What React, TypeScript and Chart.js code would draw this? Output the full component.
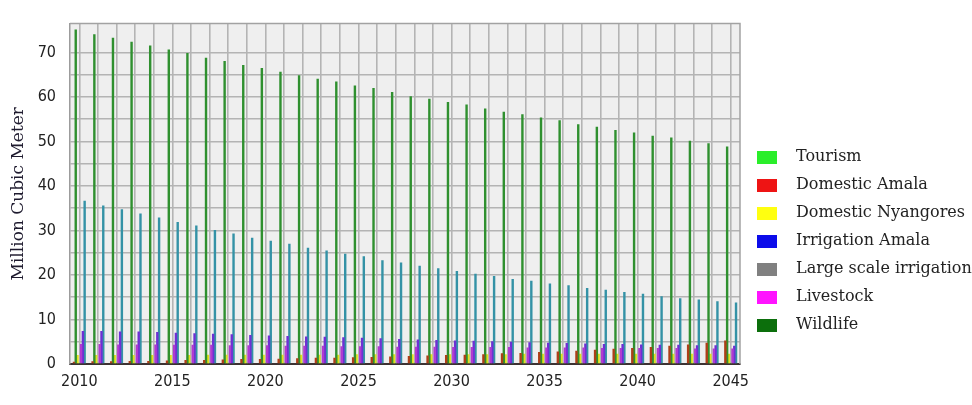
import { useEffect, useRef } from 'react';
import { Chart, registerables } from 'chart.js';

Chart.register(...registerables);

const years = [
  '2010', '2011', '2012', '2013', '2014', '2015', '2016', '2017', '2018', '2019',
  '2020', '2021', '2022', '2023', '2024', '2025', '2026', '2027', '2028', '2029',
  '2030', '2031', '2032', '2033', '2034', '2035', '2036', '2037', '2038', '2039',
  '2040', '2041', '2042', '2043', '2044', '2045',
];

const domesticAmala = [
  0.5, 0.6, 0.6, 0.7, 0.7, 0.8, 0.9, 0.9, 1.0, 1.1, 1.1, 1.2, 1.3, 1.4, 1.4, 1.5, 1.6, 1.7,
  1.8, 1.9, 2.0, 2.1, 2.2, 2.4, 2.5, 2.7, 2.8, 3.0, 3.2, 3.4, 3.6, 3.8, 4.1, 4.4, 4.8, 5.3,
];
const wildlife = [
  75.2, 74.1, 73.3, 72.4, 71.6, 70.7, 69.9, 68.8, 68.1, 67.2, 66.5, 65.7, 64.9, 64.1, 63.5, 62.6, 62.0, 61.1,
  60.2, 59.6, 58.9, 58.3, 57.4, 56.7, 56.1, 55.4, 54.8, 53.9, 53.3, 52.6, 52.0, 51.3, 50.9, 50.2, 49.6, 48.9,
];
const domesticNyangores = [
  2.0, 2.0, 2.0, 2.0, 2.0, 2.0, 2.0, 2.1, 2.1, 2.1, 2.1, 2.1, 2.1, 2.1, 2.1, 2.2, 2.2, 2.2,
  2.2, 2.2, 2.2, 2.2, 2.2, 2.2, 2.3, 2.3, 2.3, 2.3, 2.3, 2.3, 2.3, 2.3, 2.3, 2.3, 2.3, 2.3,
];
const tourism = [
  0.3, 0.3, 0.3, 0.3, 0.3, 0.3, 0.3, 0.3, 0.3, 0.3, 0.3, 0.3, 0.3, 0.3, 0.3, 0.3, 0.3, 0.3,
  0.3, 0.3, 0.3, 0.3, 0.3, 0.3, 0.3, 0.3, 0.3, 0.3, 0.3, 0.3, 0.3, 0.3, 0.3, 0.3, 0.3, 0.3,
];
const livestock = [
  4.5, 4.5, 4.4, 4.4, 4.4, 4.3, 4.3, 4.3, 4.2, 4.2, 4.2, 4.1, 4.1, 4.1, 4.0, 4.0, 4.0, 3.9,
  3.9, 3.9, 3.8, 3.8, 3.8, 3.8, 3.7, 3.7, 3.7, 3.7, 3.6, 3.6, 3.6, 3.6, 3.6, 3.5, 3.5, 3.5,
];
const irrigationAmala = [
  7.4, 7.4, 7.3, 7.3, 7.2, 7.0, 6.9, 6.8, 6.7, 6.5, 6.4, 6.3, 6.2, 6.1, 6.0, 5.9, 5.8, 5.6,
  5.5, 5.4, 5.3, 5.2, 5.1, 5.0, 4.9, 4.8, 4.7, 4.6, 4.5, 4.5, 4.4, 4.3, 4.3, 4.2, 4.2, 4.1,
];
const largeScaleIrrigation = [
  36.7, 35.6, 34.8, 33.8, 32.9, 31.9, 31.1, 30.1, 29.3, 28.4, 27.7, 27.0, 26.1, 25.5, 24.8, 24.2, 23.3, 22.8,
  22.1, 21.5, 20.9, 20.3, 19.8, 19.1, 18.7, 18.1, 17.7, 17.1, 16.7, 16.2, 15.8, 15.2, 14.8, 14.5, 14.1, 13.8,
];

// bars within each year group, left to right
const barNames = [
  'Domestic Amala', 'Wildlife', 'Domestic Nyangores', 'Tourism', 'Livestock', 'Irrigation Amala', 'Large scale irrigation',
];
const barValues = [domesticAmala, wildlife, domesticNyangores, tourism, livestock, irrigationAmala, largeScaleIrrigation];
const barColors = ['#ad3f18', '#2f902f', '#e2e21e', '#78d040', '#b13ad0', '#6e30d4', '#3492a6'];

// legend as printed
const legendNames = [
  'Tourism', 'Domestic Amala', 'Domestic Nyangores', 'Irrigation Amala', 'Large scale irrigation', 'Livestock', 'Wildlife',
];
const legendColors = ['#2aee2a', '#ee1414', '#ffff10', '#0c0cea', '#808080', '#ff14ff', '#0c6f0c'];

const yLabelEvery = 10;
const xLabelEvery = 5;

function makeSwatch(color: string) {
  const c = document.createElement('canvas');
  c.width = 31;
  c.height = 13;
  const g = c.getContext('2d')!;
  g.fillStyle = color;
  g.fillRect(0, 0, 20, 13);
  return c;
}

export default function App() {
  const ref = useRef<HTMLCanvasElement>(null);

  useEffect(() => {
    document.body.style.margin = '0';
    const canvas = ref.current!;

    const tweaks = {
      id: 'tweaks',
      beforeInit(chart: any) {
        const lg = chart.legend;
        const orig = lg.fit;
        lg.fit = function () {
          orig.call(this);
          this.width = 232;
        };
      },
      afterLayout(chart: any) {
        const lg = chart.legend;
        lg.left = 745;
        lg.right = 972;
        lg.top = 137;
        lg.bottom = 405;
      },
      beforeDraw(chart: any) {
        const { ctx, chartArea: a } = chart;
        ctx.save();
        ctx.fillStyle = '#efefef';
        ctx.fillRect(a.left, a.top, a.right - a.left, a.bottom - a.top);
        ctx.restore();
      },
      beforeDatasetsDraw(chart: any) {
        const { ctx, chartArea: a } = chart;
        ctx.save();
        ctx.strokeStyle = '#a2a2a2';
        ctx.lineWidth = 1.5;
        ctx.beginPath();
        ctx.moveTo(a.left, a.top);
        ctx.lineTo(a.right, a.top);
        ctx.lineTo(a.right, a.bottom);
        ctx.stroke();
        ctx.restore();
      },
    };

    const tickFont = {
      family: '"Liberation Sans Narrow", "DejaVu Sans Condensed", "Liberation Sans", sans-serif',
      size: 16,
    };

    const chart = new Chart(canvas, {
      type: 'bar',
      data: {
        labels: years,
        datasets: barNames.map((name, i) => ({
          label: name,
          data: barValues[i],
          backgroundColor: barColors[i],
          borderWidth: 0,
          categoryPercentage: 0.67,
          barPercentage: 1.35,
        })),
      },
      options: {
        responsive: false,
        animation: false,
        devicePixelRatio: 1,
        events: [],
        layout: { padding: { top: 12, left: 0, right: 0, bottom: 0 } },
        plugins: {
          tooltip: { enabled: false },
          legend: {
            position: 'right',
            align: 'start',
            labels: {
              usePointStyle: true,
              pointStyleWidth: 31,
              boxHeight: 13,
              padding: 12,
              color: '#222',
              font: { family: '"DejaVu Serif", serif', size: 16 },
              generateLabels: () =>
                legendNames.map((name, i) => ({
                  text: name,
                  fillStyle: legendColors[i],
                  strokeStyle: legendColors[i],
                  lineWidth: 0,
                  pointStyle: makeSwatch(legendColors[i]),
                  hidden: false,
                  fontColor: '#222',
                  datasetIndex: barNames.indexOf(name),
                })),
            },
          },
        },
        scales: {
          x: {
            offset: true,
            grid: { offset: false, color: '#b4b4b4', lineWidth: 1.6, drawTicks: false },
            border: { display: true, color: '#3c3232', width: 2 },
            ticks: {
              autoSkip: false,
              maxRotation: 0,
              padding: 8,
              color: '#222',
              font: tickFont,
              callback: (_v: any, i: number) => (Number(years[i]) % xLabelEvery === 0 ? years[i] : ''),
            },
            afterFit: (s: any) => {
              s.height = 41;
            },
          },
          y: {
            min: 0,
            max: 76.5,
            grid: {
              color: (c: any) => (c.tick && c.tick.value === 75 ? 'rgba(0,0,0,0)' : '#b4b4b4'),
              lineWidth: 1.6,
              drawTicks: false,
            },
            border: { display: true, color: '#9c9c9c', width: 1.5 },
            ticks: {
              stepSize: 5,
              includeBounds: false,
              padding: 14,
              color: '#222',
              font: tickFont,
              callback: (v: any) => (Number(v) % yLabelEvery === 0 ? String(v) : ''),
            },
            title: {
              display: true,
              text: 'Million Cubic Meter',
              color: '#1e1a2e',
              font: { family: '"DejaVu Serif", serif', size: 17 },
              padding: { top: 8, bottom: 0 },
            },
            afterFit: (s: any) => {
              s.width = 70;
            },
          },
        },
      },
      plugins: [tweaks],
    } as any);

    return () => chart.destroy();
  }, []);

  return (
    <div style={{ position: 'absolute', left: 0, top: 0, width: 972, height: 405, background: '#fff' }}>
      <canvas ref={ref} width={972} height={405} style={{ display: 'block' }} />
    </div>
  );
}
